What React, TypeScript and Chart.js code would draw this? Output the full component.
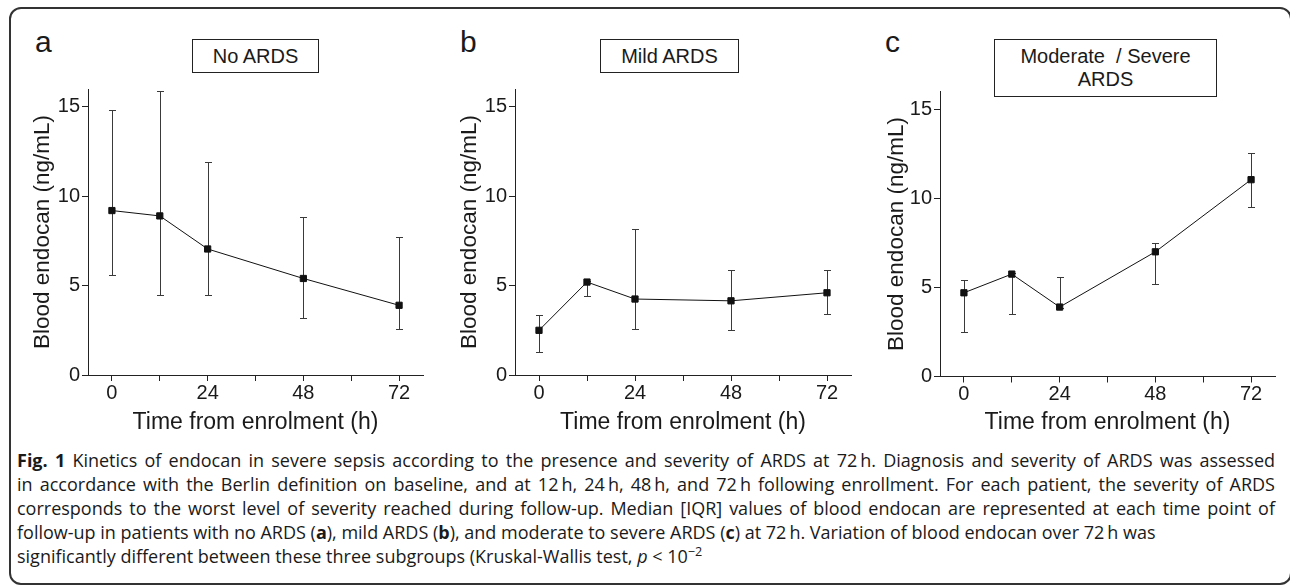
import React, { useEffect, useRef } from 'react';
import { Chart, registerables } from 'chart.js';

Chart.register(...registerables);

// ---- data ----
const timePoints = [0, 12, 24, 48, 72];
const xTickValues = [0, 12, 24, 36, 48, 60, 72];
const xTickLabels = ['0', '', '24', '', '48', '', '72'];
const yTickValues = [0, 5, 10, 15];
const yTickLabels = ['0', '5', '10', '15'];

const noArdsMedian = [9.2, 8.9, 7.05, 5.4, 3.9];
const noArdsQ1 = [5.6, 4.5, 4.45, 3.2, 2.55];
const noArdsQ3 = [14.8, 15.9, 11.9, 8.85, 7.7];

const mildMedian = [2.5, 5.2, 4.25, 4.15, 4.6];
const mildQ1 = [1.3, 4.4, 2.55, 2.5, 3.4];
const mildQ3 = [3.35, 5.25, 8.15, 5.9, 5.85];

const modSevMedian = [4.7, 5.75, 3.9, 7.0, 11.05];
const modSevQ1 = [2.5, 3.5, 3.85, 5.2, 9.5];
const modSevQ3 = [5.4, 5.8, 5.6, 7.5, 12.55];

const xTitle = 'Time from enrolment (h)';
const yTitle = 'Blood endocan (ng/mL)';

const FONT = '"Liberation Sans", Arial, Helvetica, sans-serif';
const INK = '#1a1a1a';

const errorBarPlugin = {
  id: 'errorBarsCustom',
  beforeDatasetsDraw(chart: any) {
    const ds: any = chart.data.datasets[0];
    if (!ds || !ds.errLow) return;
    const xs = chart.scales.x;
    const ys = chart.scales.y;
    const ctx = chart.ctx;
    ctx.save();
    ctx.strokeStyle = '#3a3a3a';
    ctx.lineWidth = 1;
    for (let i = 0; i < timePoints.length; i++) {
      const x = Math.round(xs.getPixelForValue(timePoints[i])) + 0.5;
      const yl = Math.round(ys.getPixelForValue(ds.errLow[i])) + 0.5;
      const yh = Math.round(ys.getPixelForValue(ds.errHigh[i])) + 0.5;
      ctx.beginPath();
      ctx.moveTo(x, yl);
      ctx.lineTo(x, yh);
      ctx.moveTo(x - 3.5, yl);
      ctx.lineTo(x + 3.5, yl);
      ctx.moveTo(x - 3.5, yh);
      ctx.lineTo(x + 3.5, yh);
      ctx.stroke();
    }
    ctx.restore();
  },
};

type PanelCfg = {
  left: number;
  width: number;
  yAxisW: number;
  rightPad: number;
  topPad: number;
  xAxisH: number;
  yTitleCenter: number;
  median: number[];
  q1: number[];
  q3: number[];
};

const CANVAS_TOP = 60;
const CANVAS_H = 380;

function Panel({ cfg }: { cfg: PanelCfg }) {
  const ref = useRef<HTMLCanvasElement>(null);
  useEffect(() => {
    if (!ref.current) return;
    const chart = new Chart(ref.current, {
      type: 'line',
      data: {
        datasets: [
          {
            data: timePoints.map((t, i) => ({ x: t, y: cfg.median[i] })),
            errLow: cfg.q1,
            errHigh: cfg.q3,
            borderColor: '#111',
            borderWidth: 1,
            pointStyle: 'rect',
            pointRadius: 4.4,
            pointBackgroundColor: '#111',
            pointBorderColor: '#111',
            pointBorderWidth: 1,
            fill: false,
            tension: 0,
          } as any,
        ],
      },
      options: {
        responsive: false,
        animation: false,
        devicePixelRatio: 1,
        layout: { padding: { left: 0, right: cfg.rightPad, top: cfg.topPad, bottom: 0 } },
        plugins: { legend: { display: false }, tooltip: { enabled: false } },
        scales: {
          x: {
            type: 'linear',
            min: -6,
            max: 78,
            afterBuildTicks: (s: any) => {
              s.ticks = xTickValues.map((v) => ({ value: v }));
            },
            afterFit: (s: any) => {
              s.height = cfg.xAxisH;
            },
            ticks: {
              autoSkip: false,
              maxRotation: 0,
              padding: 0,
              color: INK,
              font: { family: FONT, size: 20 },
              callback: (v: any) => xTickLabels[xTickValues.indexOf(Number(v))] ?? '',
            },
            grid: { display: true, drawOnChartArea: false, drawTicks: true, tickLength: 6, color: '#222', lineWidth: 1 },
            border: { display: true, color: '#222', width: 1 },
            title: {
              display: true,
              text: xTitle,
              color: INK,
              font: { family: FONT, size: 23 },
              padding: { top: 0, bottom: 4 },
            },
          },
          y: {
            type: 'linear',
            min: 0,
            max: 16,
            afterBuildTicks: (s: any) => {
              s.ticks = yTickValues.map((v) => ({ value: v }));
            },
            afterFit: (s: any) => {
              s.width = cfg.yAxisW;
            },
            ticks: {
              padding: 2,
              color: INK,
              font: { family: FONT, size: 20 },
              callback: (v: any) => yTickLabels[yTickValues.indexOf(Number(v))] ?? '',
            },
            grid: { display: true, drawOnChartArea: false, drawTicks: true, tickLength: 6, color: '#222', lineWidth: 1 },
            border: { display: true, color: '#222', width: 1 },
            title: {
              display: true,
              text: yTitle,
              color: INK,
              font: { family: FONT, size: 22.5 },
              padding: { top: cfg.yTitleCenter - 13.5, bottom: 0 },
            },
          },
        },
      } as any,
      plugins: [errorBarPlugin],
    });
    return () => chart.destroy();
  }, []);
  return (
    <canvas
      ref={ref}
      width={cfg.width}
      height={CANVAS_H}
      style={{ position: 'absolute', left: cfg.left, top: CANVAS_TOP, width: cfg.width, height: CANVAS_H }}
    />
  );
}

const panels: PanelCfg[] = [
  { left: 0, width: 440, yAxisW: 88, rightPad: 17, topPad: 29, xAxisH: 65, yTitleCenter: 43, median: noArdsMedian, q1: noArdsQ1, q3: noArdsQ3 },
  { left: 430, width: 440, yAxisW: 85, rightPad: 19, topPad: 29, xAxisH: 65, yTitleCenter: 40, median: mildMedian, q1: mildQ1, q3: mildQ3 },
  { left: 860, width: 430, yAxisW: 80, rightPad: 15, topPad: 31.5, xAxisH: 63.5, yTitleCenter: 37, median: modSevMedian, q1: modSevQ1, q3: modSevQ3 },
];

const letterStyle: React.CSSProperties = {
  position: 'absolute',
  fontFamily: FONT,
  fontSize: 30,
  lineHeight: '30px',
  color: INK,
  top: 27,
};

const boxStyle: React.CSSProperties = {
  position: 'absolute',
  boxSizing: 'border-box',
  border: '1px solid #222',
  fontFamily: FONT,
  fontSize: 20,
  lineHeight: '23px',
  color: INK,
  display: 'flex',
  flexDirection: 'column',
  alignItems: 'center',
  justifyContent: 'center',
  textAlign: 'center',
  background: '#fff',
};

const capFont = '"Open Sans", "Noto Sans", sans-serif';
const capLine: React.CSSProperties = {
  position: 'absolute',
  left: 17,
  width: 1258,
  fontFamily: capFont,
  fontSize: 18,
  lineHeight: '24px',
  color: '#1a1a1a',
  whiteSpace: 'nowrap',
};
const justified: React.CSSProperties = {
  ...capLine,
  whiteSpace: 'normal',
  textAlign: 'justify',
  textAlignLast: 'justify' as any,
};

export default function App() {
  const capTop = 448;
  return (
    <div style={{ position: 'absolute', left: 0, top: 0, width: 1290, height: 586, overflow: 'hidden', background: '#fff' }}>
      <div
        style={{
          position: 'absolute',
          left: 9,
          top: 7,
          width: 1283,
          height: 578,
          boxSizing: 'border-box',
          border: '2px solid #333',
          borderRadius: 12,
        }}
      />
      {panels.map((p, i) => (
        <Panel key={i} cfg={p} />
      ))}
      <div style={{ ...letterStyle, left: 35 }}>a</div>
      <div style={{ ...letterStyle, left: 460 }}>b</div>
      <div style={{ ...letterStyle, left: 885 }}>c</div>
      <div style={{ ...boxStyle, left: 192, top: 39, width: 127, height: 34 }}>No ARDS</div>
      <div style={{ ...boxStyle, left: 600, top: 39, width: 139, height: 34 }}>Mild ARDS</div>
      <div style={{ ...boxStyle, left: 994, top: 39, width: 223, height: 58 }}>
        <div>Moderate&nbsp; / Severe</div>
        <div>ARDS</div>
      </div>
      <div style={{ ...justified, top: capTop }}>
        <b>Fig. 1</b> Kinetics of endocan in severe sepsis according to the presence and severity of ARDS at 72{'\u2009'}h. Diagnosis and severity of ARDS was assessed
      </div>
      <div style={{ ...justified, top: capTop + 24 }}>
        in accordance with the Berlin definition on baseline, and at 12{'\u2009'}h, 24{'\u2009'}h, 48{'\u2009'}h, and 72{'\u2009'}h following enrollment. For each patient, the severity of ARDS
      </div>
      <div style={{ ...justified, top: capTop + 48 }}>
        corresponds to the worst level of severity reached during follow-up. Median [IQR] values of blood endocan are represented at each time point of
      </div>
      <div style={{ ...capLine, top: capTop + 72 }}>
        follow-up in patients with no ARDS (<b>a</b>), mild ARDS (<b>b</b>), and moderate to severe ARDS (<b>c</b>) at 72{'\u2009'}h. Variation of blood endocan over 72{'\u2009'}h was
      </div>
      <div style={{ ...capLine, top: capTop + 96 }}>
        significantly different between these three subgroups (Kruskal-Wallis test, <i>p</i> &lt; 10
        <sup style={{ fontSize: '0.7em', lineHeight: 0, verticalAlign: '0.55em' }}>−2</sup>
      </div>
    </div>
  );
}
